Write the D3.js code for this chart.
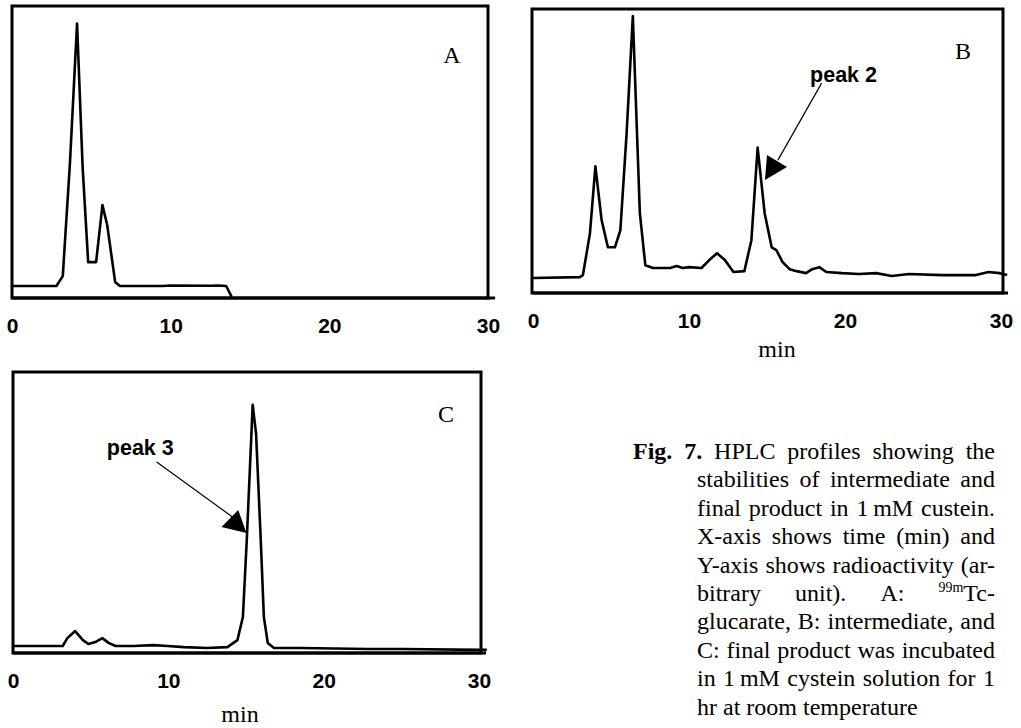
<!DOCTYPE html>
<html><head><meta charset="utf-8">
<script src="https://cdn.jsdelivr.net/npm/d3@7"></script>
<style>body{margin:0;background:#fff} svg{display:block}</style>
</head><body><svg id="c" width="1021" height="728"></svg>
<script>
// ---- data ----
const tickValues = [0, 10, 20, 30];
const tickLabels = ["0", "10", "20", "30"];

const timeA = [0, 2.8, 3.2, 3.65, 4.1, 4.45, 4.8, 5.3, 5.7, 6.0, 6.5, 6.8, 9.5, 10.0, 12.5, 13.0, 13.5, 13.85];
const valueA = [4.1, 4.1, 7.5, 46, 94, 45, 12.3, 12.3, 31.8, 25, 5.5, 4.1, 4.1, 4.3, 4.2, 4.3, 4.1, 0.3];

const timeB = [0, 3.0, 3.2, 3.65, 4.0, 4.4, 4.8, 5.25, 5.6, 6.0, 6.4, 6.85, 7.2, 7.7, 8.8, 9.2, 9.6, 10.0, 10.8, 11.3, 11.8, 12.3, 12.85, 13.55, 14.0, 14.4, 14.85, 15.3, 15.6, 16.0, 16.45, 16.9, 17.5, 17.9, 18.35, 18.8, 19.8, 20.9, 22.0, 23.0, 24.1, 26.2, 28.4, 29.2, 29.9, 30.4];
const valueB = [5.3, 5.6, 6.3, 21, 44.6, 25.6, 16.1, 16.1, 22.1, 56.1, 97.5, 28.1, 9.8, 8.8, 8.8, 9.5, 8.8, 9.1, 8.8, 11.6, 14.0, 11.6, 7.4, 7.7, 18.6, 51.2, 28.1, 16.1, 15.1, 10.9, 8.4, 7.7, 7.0, 8.4, 9.1, 7.4, 7.0, 6.7, 7.0, 6.0, 6.7, 6.3, 6.3, 7.4, 7.0, 6.3];

const timeC = [0, 3.2, 3.5, 4.0, 4.5, 4.85, 5.3, 5.75, 6.15, 6.6, 7.75, 9.05, 9.95, 11.0, 12.5, 13.8, 14.45, 14.8, 15.05, 15.43, 15.65, 15.95, 16.15, 16.4, 16.8, 18.5, 22.85, 25.0, 30.1, 30.5];
const valueC = [2.5, 2.5, 5.3, 7.8, 4.6, 3.2, 3.9, 5.3, 3.6, 2.5, 2.5, 2.8, 2.5, 2.1, 1.8, 2.1, 4.6, 12.8, 40.2, 88.3, 78, 40.2, 12.8, 3.6, 1.8, 1.8, 1.4, 1.4, 1.1, 1.1];

const panelLetters = ["A", "B", "C"];
const axisTitle = "min";
const annoTextB = "peak 2";
const annoTextC = "peak 3";
// annotation anchors in data units [time, value]
const annoB = {text: [17.76, 74.3], line: [[18.5, 73.9], [15.7, 46.8]], head: [[15.0, 48.6], [16.28, 44.4], [14.87, 39.8]]};
const annoC = {text: [6.04, 70.5], line: [[9.25, 68], [14.13, 48.4]], head: [[14.5, 50.9], [13.42, 44.8], [15.03, 42.7]]};

const captionLines = [
  [[{t: "Fig.", b: 1}], [{t: "7.", b: 1}], "HPLC", "profiles", "showing", "the"],
  ["stabilities", "of", "intermediate", "and"],
  ["final", "product", "in", "1\u2009mM", "custein."],
  ["X-axis", "shows", "time", "(min)", "and"],
  ["Y-axis", "shows", "radioactivity", "(ar-"],
  ["bitrary", "unit).", "A:", [{t: "99m", sup: 1}, {t: "Tc-"}]],
  ["glucarate,", "B:", "intermediate,", "and"],
  ["C:", "final", "product", "was", "incubated"],
  ["in", "1\u2009mM", "cystein", "solution", "for", "1"],
  ["hr", "at", "room", "temperature"]
];

// ---- layout ----
const svg = d3.select("#c");
const serif = "'Liberation Serif','Times New Roman',serif";
const sans = "'Liberation Sans',Arial,sans-serif";

const panels = [
  {t: timeA, v: valueA, box: [12, 6, 488, 298], xr: [12, 488], letter: [452, 63], min: null, anno: null},
  {t: timeB, v: valueB, box: [532, 9, 1003, 293], xr: [533, 1001], letter: [963, 59], min: [777, 357], anno: annoB, annoText: annoTextB},
  {t: timeC, v: valueC, box: [13, 372, 481, 653], xr: [13, 479], letter: [446, 422], min: [240, 722], anno: annoC, annoText: annoTextC}
];

panels.forEach((p, i) => {
  const [x0, y0, x1, y1] = p.box;
  const x = d3.scaleLinear().domain([0, 30]).range(p.xr);
  const y = d3.scaleLinear().domain([0, 100]).range([y1, y0]);
  const g = svg.append("g");

  g.append("rect").attr("x", x0).attr("y", y0).attr("width", x1 - x0).attr("height", y1 - y0)
    .attr("fill", "none").attr("stroke", "#000").attr("stroke-width", 3);
  g.append("line").attr("x1", x(0)).attr("x2", x(30.45)).attr("y1", y1).attr("y2", y1)
    .attr("stroke", "#000").attr("stroke-width", 3);

  const pts = p.t.map((d, k) => [d, p.v[k]]);
  g.append("path").datum(pts)
    .attr("d", d3.line().x(d => x(d[0])).y(d => y(d[1])))
    .attr("fill", "none").attr("stroke", "#000").attr("stroke-width", 2.6)
    .attr("stroke-linejoin", "round");

  const ax = g.append("g").attr("transform", `translate(0,${y1})`)
    .call(d3.axisBottom(x).tickValues(tickValues).tickFormat((d, k) => tickLabels[k]).tickSize(0));
  ax.select(".domain").remove();
  ax.selectAll("text").attr("y", 35).attr("dy", 0)
    .attr("font-family", sans).attr("font-weight", "bold").attr("font-size", 21).attr("fill", "#000");

  g.append("text").attr("x", p.letter[0]).attr("y", p.letter[1]).attr("text-anchor", "middle")
    .attr("font-family", serif).attr("font-size", 24).text(panelLetters[i]);

  if (p.min) {
    g.append("text").attr("x", p.min[0]).attr("y", p.min[1]).attr("text-anchor", "middle")
      .attr("font-family", serif).attr("font-size", 24).text(axisTitle);
  }

  if (p.anno) {
    const a = p.anno;
    g.append("text").attr("x", x(a.text[0])).attr("y", y(a.text[1]))
      .attr("font-family", sans).attr("font-weight", "bold").attr("font-size", 21.5)
      .text(p.annoText);
    g.append("line").attr("x1", x(a.line[0][0])).attr("y1", y(a.line[0][1]))
      .attr("x2", x(a.line[1][0])).attr("y2", y(a.line[1][1]))
      .attr("stroke", "#000").attr("stroke-width", 1.2);
    g.append("polygon").attr("points", a.head.map(d => [x(d[0]), y(d[1])].join(",")).join(" "))
      .attr("fill", "#000");
  }
});

// ---- caption ----
const capSize = 24, capLead = 28.4, capBase0 = 459, capLeft0 = 633, capLeft = 697, capRight = 995;
const cap = svg.append("g").attr("font-family", serif).attr("font-size", capSize).attr("fill", "#000");
captionLines.forEach((words, li) => {
  const yb = capBase0 + li * capLead;
  const left = li === 0 ? capLeft0 : capLeft;
  const els = words.map(w => {
    const segs = typeof w === "string" ? [{t: w}] : w;
    const te = cap.append("text").attr("y", yb);
    let raised = false;
    segs.forEach(s => {
      const ts = te.append("tspan").text(s.t);
      if (s.b) ts.attr("font-weight", "bold");
      if (s.sup) { ts.attr("font-size", 14).attr("dy", -9); raised = true; }
      else if (raised) { ts.attr("dy", 9); raised = false; }
    });
    return te;
  });
  const widths = els.map(e => e.node().getComputedTextLength());
  const sum = d3.sum(widths);
  const last = li === captionLines.length - 1;
  const gap = last ? capSize * 0.25 : (capRight - left - sum) / (els.length - 1);
  let cx = left;
  els.forEach((e, k) => { e.attr("x", cx); cx += widths[k] + gap; });
});
</script></body></html>
